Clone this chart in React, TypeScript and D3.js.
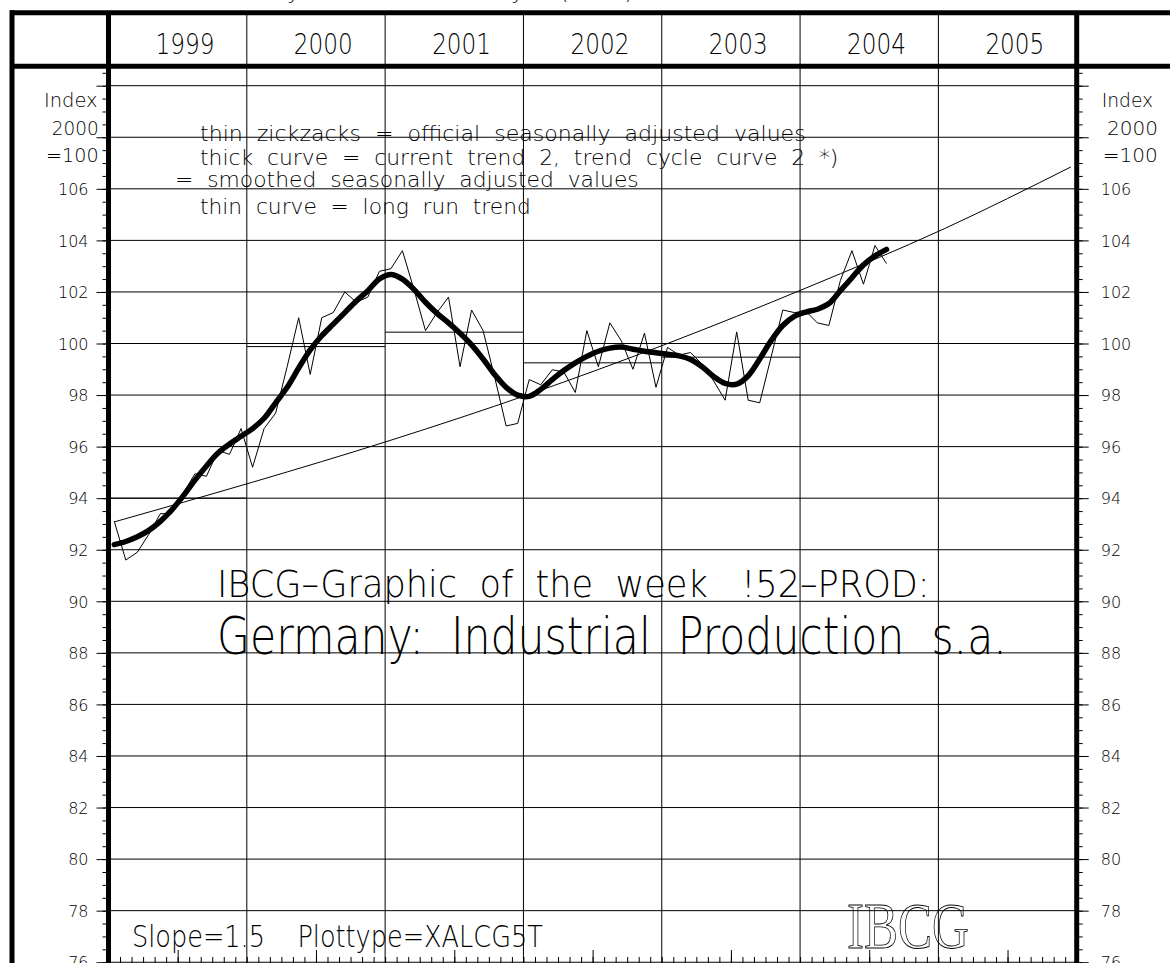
import { useEffect, useRef } from "react";
import * as d3 from "d3";

// year columns of the header
const years = ["1999", "2000", "2001", "2002", "2003", "2004", "2005"];

// official seasonally adjusted values, monthly Jan 1999 .. Aug 2004
const officialSA = [
  93.1, 91.6, 91.9, 92.6, 93.4, 93.4, 94.2, 94.95, 94.85, 95.85, 95.7, 96.7,
  95.2, 96.7, 97.3, 99.1, 101.0, 98.8, 101.0, 101.2, 102.0, 101.6, 101.8, 102.8,
  102.9, 103.6, 102.1, 100.5, 101.2, 101.8, 99.1, 101.3, 100.5, 98.7, 96.8, 96.9,
  98.6, 98.4, 98.98, 98.9, 98.1, 100.5, 99.1, 100.8, 100.1, 99.0, 100.4, 98.3,
  99.85, 99.55, 99.65, 99.2, 98.55, 97.8, 100.45, 97.8, 97.7, 99.5, 101.3, 101.2,
  101.25, 100.8, 100.7, 102.45, 103.6, 102.3, 103.8, 103.1,
];

// trend cycle curve 2 (thick curve), same months
const trendCycle = [
  92.2, 92.32, 92.5, 92.75, 93.1, 93.55, 94.1, 94.7, 95.25, 95.75, 96.1, 96.4,
  96.7, 97.1, 97.7, 98.3, 99.05, 99.75, 100.3, 100.75, 101.2, 101.65, 102.05, 102.5,
  102.68, 102.5, 102.1, 101.6, 101.17, 100.8, 100.4, 99.95, 99.4, 98.8, 98.3, 98.0,
  97.95, 98.22, 98.6, 98.95, 99.25, 99.5, 99.7, 99.82, 99.86, 99.78, 99.7, 99.64,
  99.58, 99.52, 99.38, 99.1, 98.72, 98.45, 98.42, 98.75, 99.4, 100.12, 100.7, 101.05,
  101.22, 101.33, 101.55, 102.05, 102.55, 103.05, 103.4, 103.65,
];

// yearly averages 1999..2003
const annualAverage = [94.0, 99.88, 100.44, 99.25, 99.47];

// long run trend (thin curve), month index -> value
const longRunMonths = [0, 12, 24, 36, 48, 60, 72, 83];
const longRunTrend = [93.08, 94.62, 96.25, 98.03, 100.0, 102.15, 104.45, 106.85];

const tickLabels = [76, 78, 80, 82, 84, 86, 88, 90, 92, 94, 96, 98, 100, 102, 104, 106];

const legendLines = [
  "thin  zickzacks  =  official  seasonally  adjusted  values",
  "thick  curve  =  current  trend  2,  trend  cycle  curve  2  *)",
  "=  smoothed  seasonally  adjusted  values",
  "thin  curve  =  long  run  trend",
];

const FONT = "'DejaVu Sans', 'Liberation Sans', sans-serif";

// squeeze/stretch a text horizontally so it spans `width` px from `x`
function fit(sel: d3.Selection<SVGTextElement, unknown, null, undefined>, x: number, width: number) {
  const node = sel.node();
  const w = node ? node.getComputedTextLength() : width;
  sel.attr("x", 0).attr("transform", `translate(${x},0) scale(${w ? width / w : 1},1)`);
}

export default function App() {
  const svgRef = useRef<SVGSVGElement>(null);

  useEffect(() => {
    const svg = d3.select(svgRef.current);
    svg.selectAll("*").remove();

    const left = 108.5;
    const right = 1076.7;
    const top = 12.8;
    const headerBottom = 66.3;
    const bottom = 963;

    const x = d3.scaleLinear().domain([0, 84]).range([left, right]);
    const y = d3.scaleLinear().domain([100, 110]).range([343.5, 85.7]);

    svg.append("rect").attr("width", 1170).attr("height", 963).attr("fill", "#fff");

    const label = (t: string, size: number, yy: number) =>
      svg.append("text").attr("y", yy)
        .attr("font-family", FONT).attr("font-size", size).attr("font-weight", 200)
        .style("white-space", "pre").text(t);

    // partly cut title above the frame
    const cut = svg.append("text").attr("font-family", FONT).attr("font-size", 22).attr("font-weight", 200).attr("y", -1);
    cut.append("tspan").attr("x", 300).attr("text-anchor", "end").text("Germany");
    cut.append("tspan").attr("x", 524).attr("text-anchor", "end").text("Industry");
    cut.append("tspan").attr("x", 553).attr("text-anchor", "start").text(" (2000)");

    // grid
    const grid = svg.append("g").attr("stroke", "#000").attr("stroke-width", 1);
    grid.selectAll(".h").data(d3.range(76, 111, 2)).join("line").attr("class", "h")
      .attr("x1", left).attr("x2", right)
      .attr("y1", (d) => y(d)).attr("y2", (d) => y(d));
    grid.selectAll(".v").data(d3.range(12, 84, 12)).join("line").attr("class", "v")
      .attr("x1", (d) => x(d)).attr("x2", (d) => x(d))
      .attr("y1", top).attr("y2", bottom);

    // header years
    years.forEach((yr, i) => fit(label(yr, 28, 54), x(i * 12) + 47, 59));

    // left axis
    const yTicks = d3.range(76, 110.6, 0.5);
    const majors = d3.range(76, 111, 2);
    const leftMinor = svg.append("g").attr("transform", `translate(${left},0)`)
      .call(d3.axisLeft(y).tickValues(yTicks).tickSize(6).tickFormat(() => ""));
    leftMinor.select(".domain").remove();
    const leftMajor = svg.append("g").attr("transform", `translate(${left},0)`)
      .call(d3.axisLeft(y).tickValues(majors).tickSize(12).tickPadding(8)
        .tickFormat((d) => (tickLabels.includes(+d) ? String(d) : "")));
    leftMajor.select(".domain").remove();
    leftMajor.selectAll("text").attr("font-family", FONT).attr("font-size", 16).attr("font-weight", 200).attr("dy", "0.36em");

    // right axis
    const rightMinor = svg.append("g").attr("transform", `translate(${right},0)`)
      .call(d3.axisRight(y).tickValues(yTicks).tickSize(6).tickFormat(() => ""));
    rightMinor.select(".domain").remove();
    const rightMajor = svg.append("g").attr("transform", `translate(${right},0)`)
      .call(d3.axisRight(y).tickValues(majors).tickSize(12).tickPadding(12)
        .tickFormat((d) => (tickLabels.includes(+d) ? String(d) : "")));
    rightMajor.select(".domain").remove();
    rightMajor.selectAll("text").attr("font-family", FONT).attr("font-size", 16).attr("font-weight", 200).attr("dy", "0.36em");

    // bottom month ticks
    const bMinor = svg.append("g").attr("transform", `translate(0,${bottom})`)
      .call(d3.axisTop(x).tickValues(d3.range(0, 85)).tickSize(6).tickFormat(() => ""));
    bMinor.select(".domain").remove();
    const bMajor = svg.append("g").attr("transform", `translate(0,${bottom})`)
      .call(d3.axisTop(x).tickValues(d3.range(6, 84, 12)).tickSize(13).tickFormat(() => ""));
    bMajor.select(".domain").remove();

    // axis unit labels
    const units: [string, number, number, number][] = [
      ["Index", 107, 44, 53.6], ["2000", 135, 51.7, 47], ["=100", 162, 46, 52.7],
      ["Index", 107, 1101.7, 51.5], ["2000", 135, 1107, 51], ["=100", 162, 1102.7, 55],
    ];
    units.forEach(([t, yy, xx, len]) => fit(label(t, 20, yy), xx, len));

    // thick frame lines
    const frame = svg.append("g").attr("stroke", "#000").attr("stroke-width", 5);
    frame.append("line").attr("x1", 10).attr("x2", 1170).attr("y1", top).attr("y2", top);
    frame.append("line").attr("x1", 10).attr("x2", 1170).attr("y1", headerBottom).attr("y2", headerBottom);
    frame.append("line").attr("x1", 12).attr("x2", 12).attr("y1", top - 2.5).attr("y2", bottom);
    frame.append("line").attr("x1", left).attr("x2", left).attr("y1", top).attr("y2", bottom);
    frame.append("line").attr("x1", right).attr("x2", right).attr("y1", top).attr("y2", bottom);

    // legend text
    const legendPos = [[200, 141.5, 606], [200, 165.5, 639], [175, 187.5, 464], [200, 214, 331]];
    legendLines.forEach((t, i) => {
      const [xx, yy, len] = legendPos[i];
      fit(label(t, 21, yy), xx, len);
    });

    // titles
    fit(label("IBCG\u2013Graphic  of  the  week   !52\u2013PROD:", 37, 597), 217, 713);
    fit(label("Germany:  Industrial  Production  s.a.", 52, 654), 217, 790);
    fit(label("Slope=1.5    Plottype=XALCG5T", 30, 947), 132, 411);
    const logo = svg.append("text").attr("y", 948)
      .attr("font-family", "'Liberation Serif', 'DejaVu Serif', serif").attr("font-size", 66)
      .attr("fill", "none").attr("stroke", "#000").attr("stroke-width", 0.9)
      .text("IBCG");
    fit(logo, 847, 122);

    // yearly averages
    svg.append("g").attr("stroke", "#000").attr("stroke-width", 1)
      .selectAll("line").data(annualAverage).join("line")
      .attr("x1", (_, i) => x(i * 12)).attr("x2", (_, i) => x(i * 12 + 12))
      .attr("y1", (d) => y(d)).attr("y2", (d) => y(d));

    // long run trend
    const longLine = d3.line<number>()
      .x((_, i) => x(longRunMonths[i] + 0.5))
      .y((d) => y(d))
      .curve(d3.curveMonotoneX);
    svg.append("path").attr("d", longLine(longRunTrend)).attr("fill", "none")
      .attr("stroke", "#000").attr("stroke-width", 1);

    // zigzag
    const monthLine = d3.line<number>().x((_, i) => x(i + 0.5)).y((d) => y(d));
    svg.append("path").attr("d", monthLine(officialSA)).attr("fill", "none")
      .attr("stroke", "#000").attr("stroke-width", 1).attr("stroke-linejoin", "miter");

    // thick trend cycle curve
    svg.append("path").attr("d", monthLine.curve(d3.curveCatmullRom)(trendCycle)).attr("fill", "none")
      .attr("stroke", "#000").attr("stroke-width", 5.5)
      .attr("stroke-linejoin", "round").attr("stroke-linecap", "round");
  }, []);

  return (
    <svg ref={svgRef} width={1170} height={963}
      style={{ position: "absolute", left: 0, top: 0, display: "block" }} />
  );
}
